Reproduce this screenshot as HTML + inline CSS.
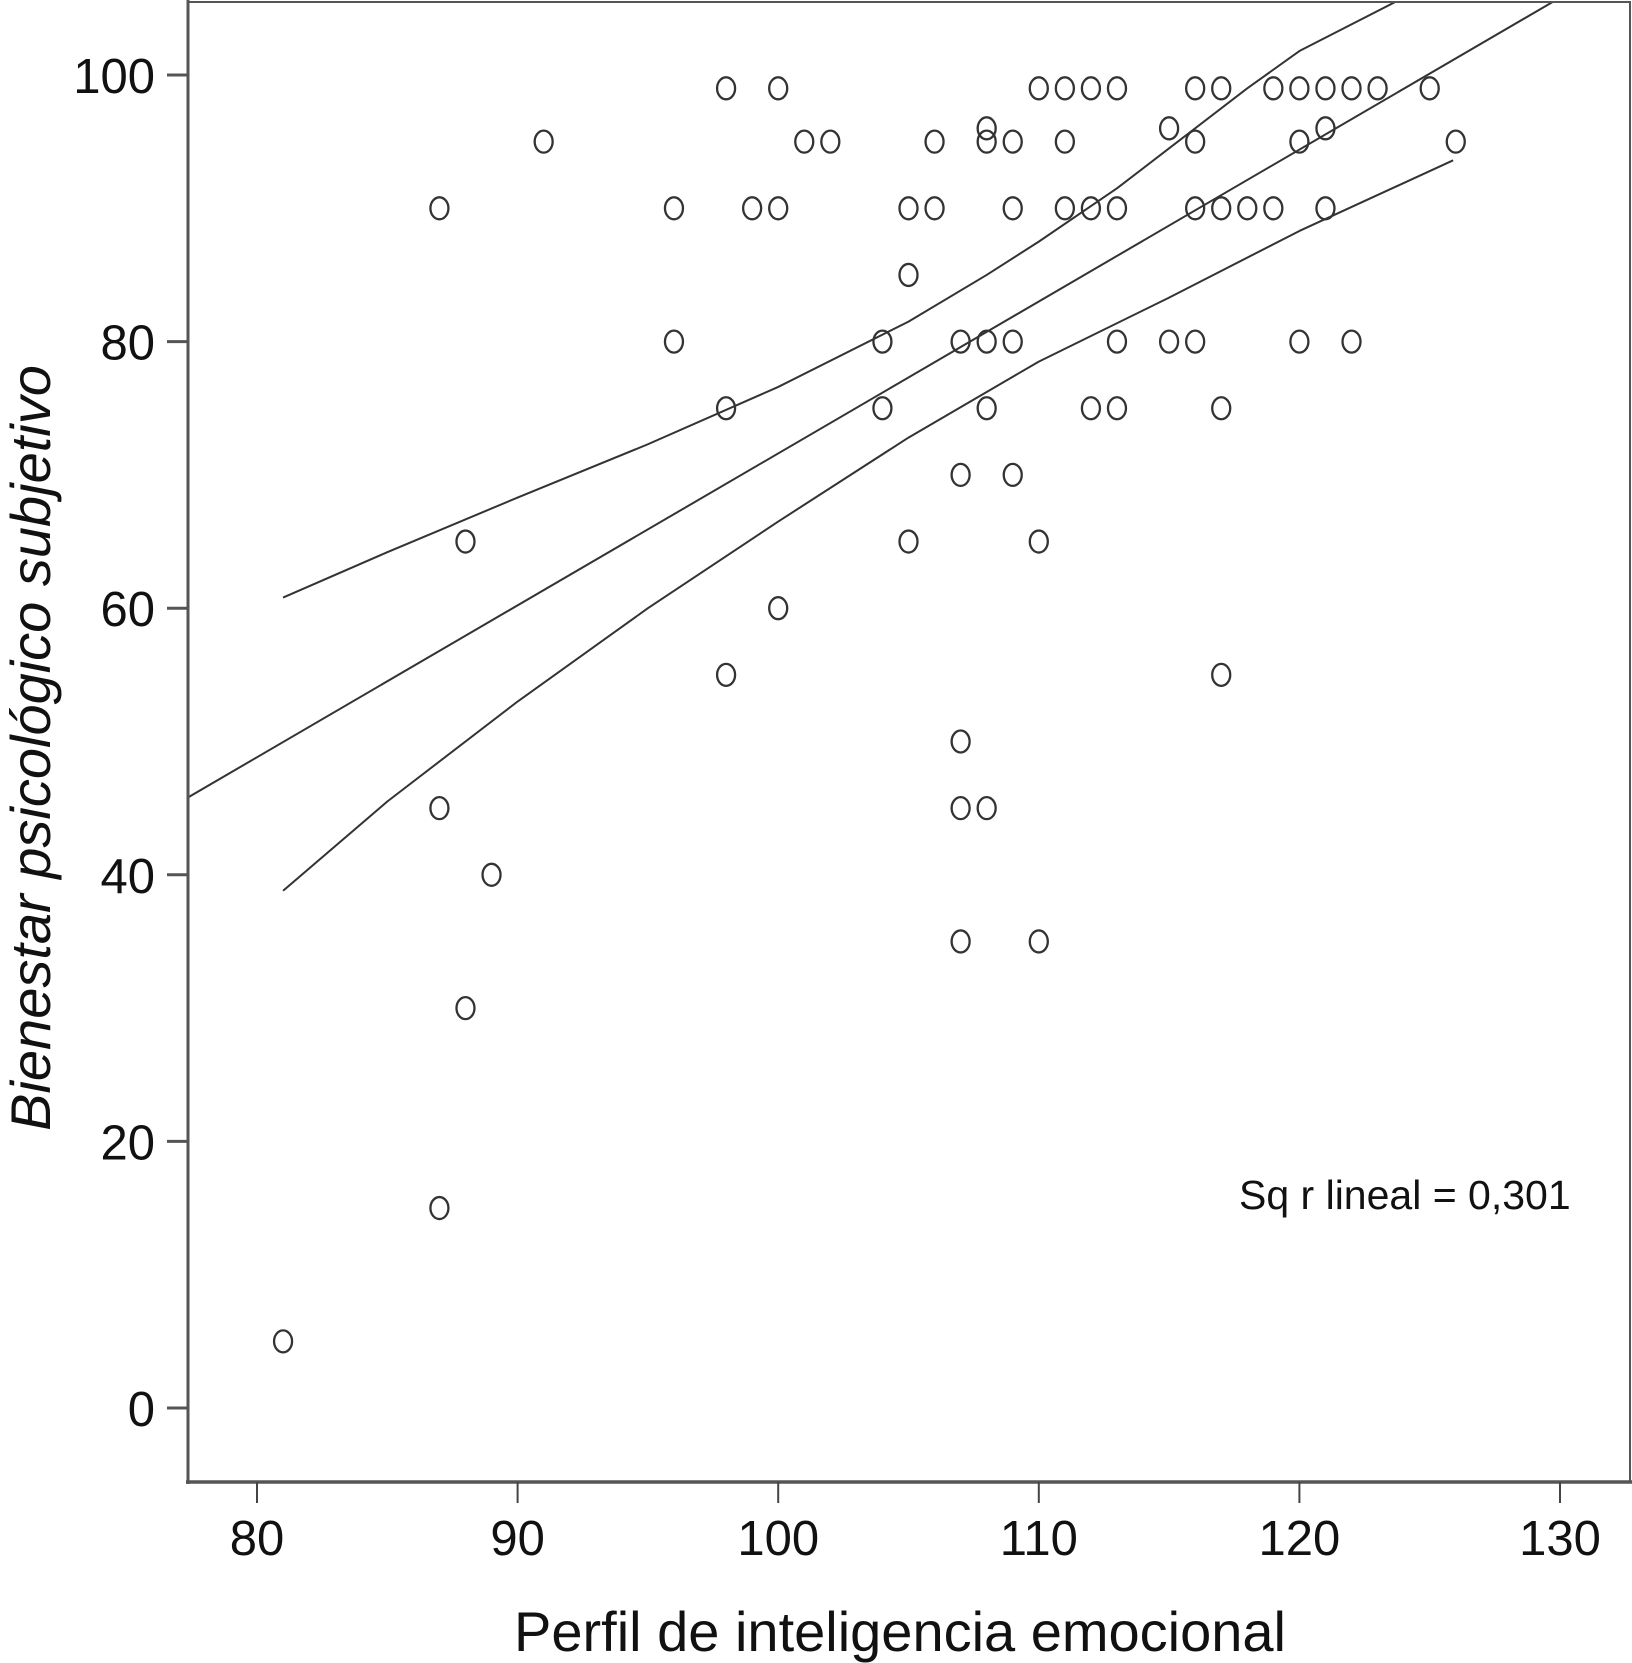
<!DOCTYPE html>
<html><head><meta charset="utf-8"><style>
html,body{margin:0;padding:0;background:#fff;}
svg{display:block;}
</style></head><body>
<svg id="chart" width="1632" height="1663" viewBox="0 0 1632 1663" xmlns="http://www.w3.org/2000/svg" font-family="Liberation Sans, sans-serif">
<g id="plot"></g>
<g id="axes"></g>
<text x="900" y="1651" font-size="56" text-anchor="middle" fill="#111">Perfil de inteligencia emocional</text>
<text transform="translate(50,748) rotate(-90)" font-size="56" font-style="italic" text-anchor="middle" fill="#111">Bienestar psicológico subjetivo</text>
<text x="1239" y="1209" font-size="41" fill="#111">Sq r lineal = 0,301</text>
</svg>
<script>
const xVals=[81,87,87,87,88,88,89,91,96,96,98,98,98,99,100,100,100,101,102,104,104,105,105,105,106,106,107,107,107,107,107,108,108,108,108,108,109,109,109,109,110,110,110,111,111,111,112,112,112,113,113,113,113,115,115,116,116,116,116,117,117,117,117,118,119,119,120,120,120,121,121,121,122,122,123,125,126];
const yVals=[5,90,45,15,65,30,40,95,90,80,99,75,55,90,99,90,60,95,95,80,75,90,85,65,95,90,80,70,50,45,35,96,95,80,75,45,95,90,80,70,99,65,35,99,95,90,99,90,75,99,90,80,75,96,80,99,95,90,80,99,90,75,55,90,99,90,99,95,80,99,96,90,99,80,99,99,95];
const fitX=[77.35,130];
const fitY=[45.8,105.8];
const upperX=[81,85,90,95,100,105,108,110,113,115,118,120,124];
const upperY=[60.8,64.2,68.3,72.3,76.6,81.5,85,87.5,91.5,94.5,99,101.8,105.8];
const lowerX=[81,85,90,95,100,105,110,115,120,125.9];
const lowerY=[38.8,45.5,53,60,66.5,72.8,78.5,83.3,88.3,93.6];
const xTicks=[80,90,100,110,120,130];
const yTicks=[0,20,40,60,80,100];

const NS='http://www.w3.org/2000/svg';
const sx=v=>257+(v-80)*26.06;
const sy=v=>1408-v*13.33;
const plot=document.getElementById('plot');
const axes=document.getElementById('axes');
function mk(tag,attrs,parent){const e=document.createElementNS(NS,tag);for(const k in attrs)e.setAttribute(k,attrs[k]);parent.appendChild(e);return e;}

const defs=mk('defs',{},plot);
const cp=mk('clipPath',{id:'clip'},defs);
mk('rect',{x:188,y:2,width:1442,height:1480},cp);
const lines=mk('g',{'clip-path':'url(#clip)'},plot);

function poly(xs,ys,name){
  const p=mk('polyline',{points:xs.map((x,i)=>sx(x)+','+sy(ys[i])).join(' '),fill:'none',stroke:'#333','stroke-width':2,'stroke-linejoin':'round'},lines);
  
  
}
poly(fitX,fitY,'regression-line');
poly(upperX,upperY,'upper-confidence-line');
poly(lowerX,lowerY,'lower-confidence-line');

xVals.forEach((x,i)=>{
  const e=mk('ellipse',{cx:sx(x),cy:sy(yVals[i]),rx:9,ry:11,fill:'none',stroke:'#333','stroke-width':2.3},plot);
  
  
});

const f=mk('path',{d:'M188,2 H1630 V1482 H188 Z',fill:'none',stroke:'#555','stroke-width':2},axes);


const xa=mk('line',{x1:186,y1:1482,x2:1632,y2:1482,stroke:'#555','stroke-width':3.5},axes);


const ya=mk('line',{x1:188,y1:0,x2:188,y2:1484,stroke:'#555','stroke-width':3},axes);



xTicks.forEach(t=>{
  const l=mk('line',{x1:sx(t),y1:1482,x2:sx(t),y2:1503,stroke:'#444','stroke-width':2},axes);
  
  
  const tx=mk('text',{x:sx(t),y:1555,'font-size':49,'text-anchor':'middle',fill:'#111'},axes);
  tx.textContent=t;
  
  
});
yTicks.forEach(t=>{
  const l=mk('line',{x1:167,y1:sy(t),x2:188,y2:sy(t),stroke:'#555','stroke-width':3},axes);
  
  
  const tx=mk('text',{x:155,y:sy(t)+18,'font-size':49,'text-anchor':'end',fill:'#111'},axes);
  tx.textContent=t;
  
  
});
</script>
</body></html>
